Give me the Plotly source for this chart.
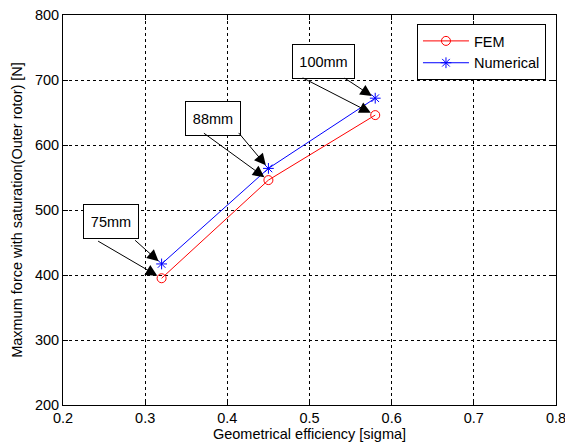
import plotly.graph_objects as go

sigma = [0.32, 0.45, 0.58]
fem = [395, 546, 646]
numerical = [417, 564, 672]
labels = ["75mm", "88mm", "100mm"]

FONT = "Liberation Sans, Arial, sans-serif"
FS = 14.5

fig = go.Figure()
fig.add_trace(go.Scatter(x=sigma, y=fem, mode="lines+markers", name="FEM",
                         line=dict(color="red", width=1),
                         marker=dict(symbol="circle-open", size=9, color="red", line=dict(width=1))))
fig.add_trace(go.Scatter(x=sigma, y=numerical, mode="lines+markers", name="Numerical",
                         line=dict(color="blue", width=1),
                         marker=dict(symbol="asterisk-open", size=9, color="blue", line=dict(width=1))))

# label box offsets (pixels relative to Numerical point) and arrow tails
box_shift = [(-51, 42), (-55, 50), (-52, 37)]
box_w = [50, 50, 57]
tail_star = [(-28, -25), (-31, -37), (-32, -21)]
tail_circ = [(-65, -38), (-66, -48), (-74, -38)]

ann = []
for i, lab in enumerate(labels):
    ann.append(dict(x=sigma[i], y=numerical[i], xref="x", yref="y", text=lab,
                    showarrow=False, xshift=box_shift[i][0], yshift=box_shift[i][1],
                    bordercolor="black", borderwidth=1, bgcolor="white",
                    width=box_w[i], height=29, borderpad=2,
                    font=dict(family=FONT, size=FS, color="black")))
    ann.append(dict(x=sigma[i], y=numerical[i], xref="x", yref="y", text="",
                    showarrow=True, ax=tail_star[i][0], ay=tail_star[i][1],
                    arrowhead=2, arrowsize=2.3, arrowwidth=1, arrowcolor="black", standoff=4))
    ann.append(dict(x=sigma[i], y=fem[i], xref="x", yref="y", text="",
                    showarrow=True, ax=tail_circ[i][0], ay=tail_circ[i][1],
                    arrowhead=2, arrowsize=2.3, arrowwidth=1, arrowcolor="black", standoff=5))

axis_common = dict(showline=True, linecolor="black", linewidth=1, mirror="allticks",
                   ticks="inside", ticklen=5, tickcolor="black", automargin=False,
                   ticklabeloverflow="allow",
                   showgrid=True, gridcolor="black", gridwidth=1, griddash="3px,3px",
                   zeroline=False, tickfont=dict(family=FONT, size=FS, color="black"))

fig.update_layout(
    width=565, height=446,
    margin=dict(l=63, r=9, t=15, b=41),
    paper_bgcolor="white", plot_bgcolor="white",
    font=dict(family=FONT, size=FS, color="black"),
    xaxis=dict(range=[0.2, 0.8], dtick=0.1, tickformat=".1f",
               title=dict(text="Geometrical efficiency [sigma]", standoff=2,
                          font=dict(family=FONT, size=FS)), **axis_common),
    yaxis=dict(range=[200, 800], dtick=100,
               title=dict(text="Maxmum force with saturation(Outer rotor) [N]", standoff=8,
                          font=dict(family=FONT, size=FS)), **axis_common),
    legend=dict(x=0.718, y=0.977, xanchor="left", yanchor="top",
                bordercolor="black", borderwidth=1, bgcolor="white",
                itemwidth=46,
                font=dict(family=FONT, size=FS), tracegroupgap=0),
    annotations=ann,
)

fig.write_html("out.html")
